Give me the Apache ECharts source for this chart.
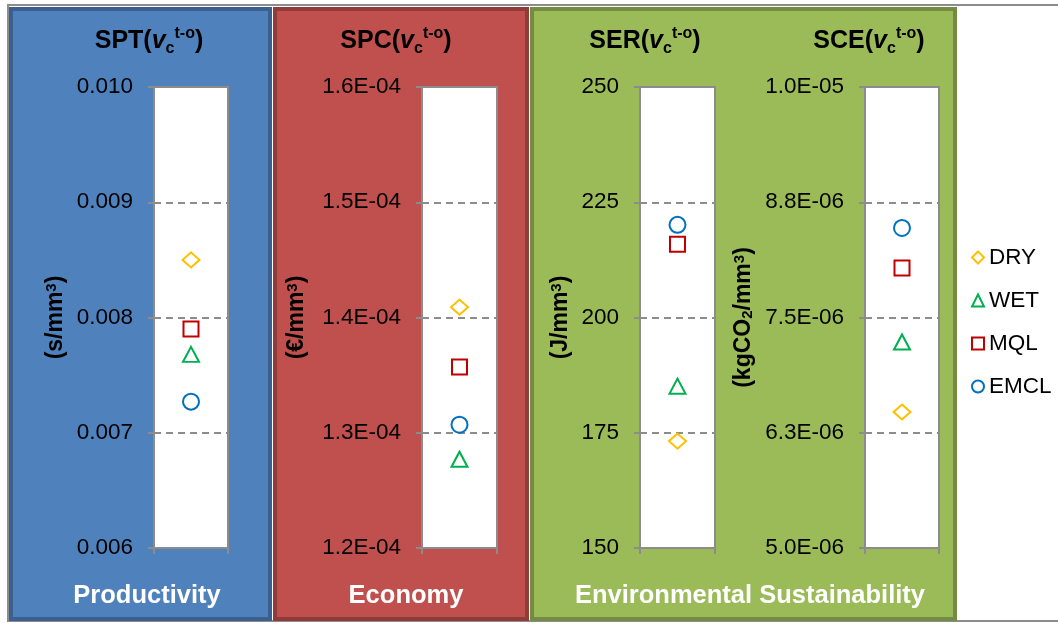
<!DOCTYPE html>
<html>
<head>
<meta charset="utf-8">
<script src="https://cdn.jsdelivr.net/npm/echarts@6/dist/echarts.min.js"></script>
<style>
html,body{margin:0;padding:0;background:#fff;}
#chart{width:1058px;height:623px;}
</style>
</head>
<body>
<div id="chart"></div>
<script>
// ---- data ----
var methods = ['DRY', 'WET', 'MQL', 'EMCL'];
var sptValues = [0.00850, 0.00768, 0.00790, 0.00727];   // s/mm3
var spcValues = [1.409e-4, 1.277e-4, 1.357e-4, 1.307e-4]; // EUR/mm3
var serValues = [173.2, 185.1, 215.9, 220.1];            // J/mm3
var sceValues = [6.475e-6, 7.234e-6, 8.037e-6, 8.471e-6]; // kgCO2/mm3
var sptTicks = ['0.006', '0.007', '0.008', '0.009', '0.010'];
var spcTicks = ['1.2E-04', '1.3E-04', '1.4E-04', '1.5E-04', '1.6E-04'];
var serTicks = ['150', '175', '200', '225', '250'];
var sceTicks = ['5.0E-06', '6.3E-06', '7.5E-06', '8.8E-06', '1.0E-05'];
var groupLabels = ['Productivity', 'Economy', 'Environmental Sustainability'];

// ---- styling ----
var methodColors = ['#FFC000', '#00B050', '#C00000', '#0070C0'];
var methodSymbols = ['diamond', 'triangle', 'rect', 'circle'];
var methodSizes = [[17, 15], [16, 15], [15, 15], [16, 16]];
var gridLine = '#8C8C8C';
var FONT = '"Liberation Sans", Arial, sans-serif';

var panels = [
  {title: 'SPT', unit: '(s/mm{sup|3})', values: sptValues, ticks: sptTicks, min: 0.006, max: 0.010, interval: 0.001,
   left: 154, width: 74, nameGap: 87, cx: 144},
  {title: 'SPC', unit: '(€/mm{sup|3})', values: spcValues, ticks: spcTicks, min: 1.2e-4, max: 1.6e-4, interval: 1e-5,
   left: 422, width: 75, nameGap: 114, cx: 391},
  {title: 'SER', unit: '(J/mm{sup|3})', values: serValues, ticks: serTicks, min: 150, max: 250, interval: 25,
   left: 640, width: 75, nameGap: 68, cx: 640},
  {title: 'SCE', unit: '(kgCO{sub|2}/mm{sup|3})', values: sceValues, ticks: sceTicks, min: 5e-6, max: 1e-5, interval: 1.25e-6,
   left: 865, width: 74, nameGap: 110, cx: 864}
];

var grids = [], xAxes = [], yAxes = [], series = [], titles = [];

var titleRich = {
  b: {fontSize: 25, fontWeight: 'bold', color: '#000', fontFamily: FONT, lineHeight: 31},
  i: {fontSize: 25, fontWeight: 'bold', fontStyle: 'italic', color: '#000', fontFamily: FONT, lineHeight: 31},
  sub: {fontSize: 16, fontWeight: 'bold', color: '#000', fontFamily: FONT, verticalAlign: 'bottom', lineHeight: 16},
  sup: {fontSize: 16, fontWeight: 'bold', color: '#000', fontFamily: FONT, verticalAlign: 'top', lineHeight: 16}
};

panels.forEach(function (p, k) {
  grids.push({
    left: p.left, top: 87, width: p.width, height: 461,
    show: true, backgroundColor: '#fff', borderColor: gridLine, borderWidth: 2
  });
  xAxes.push({
    type: 'category', gridIndex: k, data: [''], z: 3,
    axisLine: {show: true, lineStyle: {color: gridLine, width: 2}},
    axisTick: {show: true, length: 6, lineStyle: {color: gridLine, width: 2}},
    axisLabel: {show: false},
    splitLine: {show: false}
  });
  (function (ticks, min, interval) {
    yAxes.push({
      type: 'value', gridIndex: k, min: min, max: p.max, interval: interval, z: 3,
      name: p.unit, nameLocation: 'middle', nameGap: p.nameGap, nameRotate: 90,
      nameTextStyle: {
        fontSize: 23, fontWeight: 'bold', color: '#000', fontFamily: FONT,
        rich: {
          sup: {fontSize: 15, fontWeight: 'bold', color: '#000', fontFamily: FONT, verticalAlign: 'top', lineHeight: 15},
          sub: {fontSize: 15, fontWeight: 'bold', color: '#000', fontFamily: FONT, verticalAlign: 'bottom', lineHeight: 15}
        }
      },
      axisLine: {show: true, lineStyle: {color: gridLine, width: 2}},
      axisTick: {show: true, length: 6, lineStyle: {color: gridLine, width: 2}},
      axisLabel: {
        margin: 21, fontSize: 22.5, color: '#000', fontFamily: FONT,
        formatter: function (v) { return ticks[Math.round((v - min) / interval)]; }
      },
      splitLine: {show: true, lineStyle: {color: gridLine, width: 2, type: [7, 5]}}
    });
  })(p.ticks, p.min, p.interval);
  methods.forEach(function (m, j) {
    series.push({
      type: 'scatter', name: m, xAxisIndex: k, yAxisIndex: k,
      symbol: methodSymbols[j], symbolSize: methodSizes[j],
      itemStyle: {color: '#fff', borderColor: methodColors[j], borderWidth: 2, opacity: 1},
      data: [[0, p.values[j]]], z: 5
    });
  });
  titles.push({
    text: '{b|' + p.title + '(}{i|v}{sub|c}{sup|t-o}{b|)}',
    left: p.cx, top: 21, textAlign: 'center',
    textStyle: {rich: titleRich}
  });
});

var groupCenters = [142, 401, 745];
groupLabels.forEach(function (g, i) {
  titles.push({
    text: g, left: groupCenters[i], top: 578, textAlign: 'center',
    textStyle: {fontSize: 25.5, fontWeight: 'bold', color: '#fff', fontFamily: FONT}
  });
});

var panelRects = [
  {x: 11, w: 259, fill: '#4F81BD', stroke: '#3B5F8E'},
  {x: 275, w: 252, fill: '#C0504D', stroke: '#8E3B39'},
  {x: 532, w: 423, fill: '#9BBB59', stroke: '#738B42'}
];
var graphics = [{
  type: 'rect', z: -20, silent: true,
  shape: {x: 8, y: 5, width: 1060, height: 616},
  style: {fill: '#fff', stroke: '#8C8C8C', lineWidth: 2}
}];
panelRects.forEach(function (r) {
  graphics.push({
    type: 'rect', z: -10, silent: true,
    shape: {x: r.x, y: 9, width: r.w, height: 610},
    style: {fill: r.fill, stroke: r.stroke, lineWidth: 4}
  });
});

var chart = echarts.init(document.getElementById('chart'), null, {renderer: 'canvas'});
chart.setOption({
  animation: false,
  backgroundColor: '#fff',
  title: titles,
  graphic: graphics,
  legend: {
    data: methods, orient: 'vertical', left: 966, top: 241,
    itemWidth: 12, itemHeight: 12, itemGap: 20,
    textStyle: {fontSize: 22.5, color: '#000', fontFamily: FONT, lineHeight: 22},
    itemStyle: {borderWidth: 2}
  },
  grid: grids,
  xAxis: xAxes,
  yAxis: yAxes,
  series: series
});
</script>
</body>
</html>
